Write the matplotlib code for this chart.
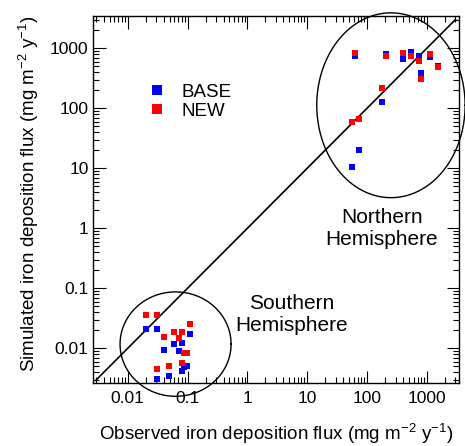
import numpy as np
import matplotlib
matplotlib.use("Agg")
import matplotlib.pyplot as plt
from matplotlib.ticker import FixedLocator, LogLocator, NullFormatter
from matplotlib.lines import Line2D

plt.rcParams['font.family'] = ['Liberation Sans', 'DejaVu Sans']
plt.rcParams['mathtext.fontset'] = 'custom'
plt.rcParams['mathtext.rm'] = 'Liberation Sans'
plt.rcParams['mathtext.it'] = 'Liberation Sans:italic'

# Southern hemisphere stations: observed, BASE, NEW
obs_s  = [0.0202, 0.0305, 0.110, 0.0601, 0.080, 0.0405, 0.0713, 0.0993, 0.086, 0.080, 0.0305, 0.0497]
base_s = [0.0210, 0.0210, 0.0171, 0.0118, 0.0121, 0.00948, 0.00912, 0.00513, 0.00482, 0.00423, 0.00308, 0.00345]
new_s  = [0.0363, 0.0363, 0.0254, 0.0189, 0.0189, 0.0156, 0.0147, 0.00826, 0.00826, 0.00569, 0.00447, 0.00507]

# Northern hemisphere stations
obs_n  = [63.2, 206, 397, 540, 743, 1135, 1556, 803, 181, 72.9, 55.7]
base_n = [730, 804, 656, 861, 744, 724, 507, 383, 125, 20.2, 10.4]
new_n  = [826, 753, 845, 753, 610, 804, 482, 308, 215, 66.3, 58.6]

one_to_one = [0.003, 3000]
tick_vals = [0.01, 0.1, 1, 10, 100, 1000]
tick_labels = ['0.01', '0.1', '1', '10', '100', '1000']

fig = plt.figure(figsize=(4.65, 4.46), dpi=100)
ax = fig.add_axes([0.1994, 0.1413, 0.788, 0.8229])
ax.set_xscale('log')
ax.set_yscale('log')
ax.set_xlim(10**-2.585, 10**3.54)
ax.set_ylim(10**-2.578, 10**3.538)

ax.plot(one_to_one, one_to_one, color='k', lw=1.2)

obs = obs_s + obs_n
ax.plot(obs, base_s + base_n, ls='none', marker='s', ms=4.5, mew=0, color='#0000ff')
ax.plot(obs, new_s + new_n, ls='none', marker='s', ms=4.5, mew=0, color='#ff0000')

# hemisphere ellipses (drawn in log space)
t = np.linspace(0, 2 * np.pi, 300)
for cx, cy, rx, ry in [(-1.20, -1.93, 0.928, 0.87), (2.40, 2.05, 1.24, 1.54)]:
    ax.plot(10**(cx + rx * np.cos(t)), 10**(cy + ry * np.sin(t)),
            color='k', lw=1.0, clip_on=False)

ax.text(177, 1.0, 'Northern\nHemisphere', ha='center', va='center', fontsize=15)
ax.text(5.5, 0.037, 'Southern\nHemisphere', ha='center', va='center', fontsize=15)

for axis in (ax.xaxis, ax.yaxis):
    axis.set_major_locator(FixedLocator(tick_vals))
    axis.set_minor_locator(LogLocator(base=10, subs=np.arange(2, 10)))
    axis.set_minor_formatter(NullFormatter())
ax.set_xticklabels(tick_labels)
ax.set_yticklabels(tick_labels)
ax.tick_params(which='both', direction='in', top=True, right=True, labelsize=12.5, width=0.8)
ax.tick_params(which='major', length=9)
ax.tick_params(which='minor', length=4.5)
ax.tick_params(axis='x', pad=6)
ax.tick_params(axis='y', pad=3)
for s in ax.spines.values():
    s.set_linewidth(1.0)

ax.set_xlabel('Observed iron deposition flux (mg m$^{-2}$ y$^{-1}$)', fontsize=13.5, labelpad=11)
ax.set_ylabel('Simulated iron deposition flux (mg m$^{-2}$ y$^{-1}$)', fontsize=13.5)
ax.yaxis.set_label_coords(-0.141, 0.515)

handles = [Line2D([], [], ls='none', marker='s', ms=7.5, mew=0, color='#0000ff'),
           Line2D([], [], ls='none', marker='s', ms=7.5, mew=0, color='#ff0000')]
fig.legend(handles, ['BASE', 'NEW'], loc='upper left', bbox_to_anchor=(0.3168, 0.812),
           frameon=False, fontsize=13.5, handlelength=1.0, handletextpad=0.8,
           labelspacing=0.1, borderpad=0, borderaxespad=0)

fig.savefig('out.png', dpi=100)
